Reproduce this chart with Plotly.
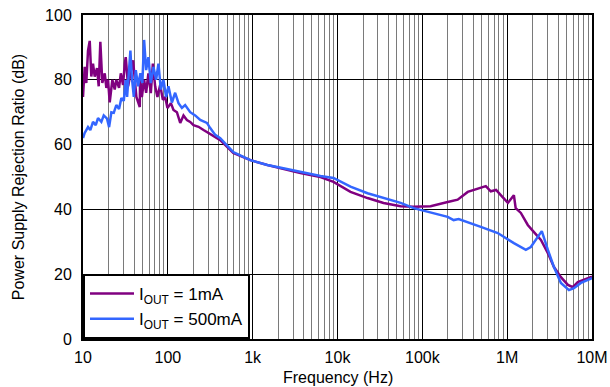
import plotly.graph_objects as go

# 1 mA series (frequency Hz, PSRR dB)
freq_1ma = [10, 10.47, 10.94, 11.46, 12.0, 12.53, 13.12, 13.74, 14.63, 15.32, 16.01, 16.9, 18.04,
            18.85, 19.73, 20.65, 22.17, 23.67, 24.7, 26.6, 27.9, 29.65, 31.07, 31.9, 34.0, 35.6,
            38.95, 42.6, 46.7,
            47.1, 49.4, 52.5, 55.5, 59.0, 63.0, 66.6, 70.9, 75.4, 81.2, 87.4, 93, 99, 108.6,
            116.6, 127.9, 140, 153, 167.8, 183.5, 200.7, 230, 263.5, 302, 346, 415,
            591, 938, 1490, 3655, 6300, 8970,
            14230, 22600, 34900, 55500, 79000, 125000, 199000, 261000, 343000, 420000, 489000,
            560000, 641000, 740000, 841000, 1020000, 1200000, 1260000, 1450000, 1750000,
            2070000, 2500000, 3020000, 3560000, 4300000, 5200000, 5960000, 6800000, 8970000, 10000000]
psrr_1ma = [74.7, 84, 79, 89, 92, 81, 85, 81, 83.6, 78, 91.7, 79, 82,
            77.5, 80, 73, 80, 77, 80, 77.5, 82, 78.4, 85, 87, 78, 81,
            86, 74.7, 71.6,
            81, 74.7, 80, 76, 82, 75.9, 85, 78, 74.7, 78.4, 73.8, 74.7, 71.3, 72.8,
            70.7, 70, 66.7, 69, 67.6, 67, 66, 65.5, 64.5, 63.6, 62.6, 61.4,
            57.4, 55.2, 53.7, 51.2, 50, 48.5,
            45.4, 43.5, 42, 41, 40.8, 41, 42.3, 43, 45.4, 46.2, 46.6,
            47.2, 45.6, 46, 44.4, 42, 44.4, 40.4, 38.9, 35.2,
            33, 30.6, 26.5, 22.2, 19.1, 16.7, 16, 17.6, 18.8, 19.2]

# 500 mA series
freq_500ma = [10, 10.47, 11.46, 12.2, 13.12, 14.13, 15.03, 16.45, 17.56, 19.2, 20.3, 21.6, 23.05,
              24.7, 26.6, 28.34, 30.25, 31.9, 33.1, 34.95, 36.2, 37.6, 39.7, 41.9, 44.6, 47.5,
              50.1,
              52.5, 55.5, 59.0, 63.0, 67.6, 72.8, 77.5, 82.7, 88.7, 95.5, 101.7, 111.6, 122,
              133.6, 146.5, 160, 183.5, 210, 241, 289, 316, 362, 415,
              591, 938, 1490, 2300, 3655, 6300, 8970, 14230, 22600, 34900, 55500,
              79000, 199000, 234000, 268000, 489000, 775000, 1200000, 1660000, 1900000,
              2180000, 2560000, 3020000, 3560000, 4300000, 5350000, 6120000, 7400000, 10000000]
psrr_500ma = [62, 63.6, 65.4, 64.5, 67, 66, 68.2, 67, 69, 68, 65.4, 70, 69.8,
              72.2, 71, 74.4, 73.5, 80, 74.7, 83, 89, 81, 74.7, 83, 78, 82,
              79,
              92.3, 83, 87, 79, 84, 80, 85, 77, 80, 74.7, 78, 73, 76,
              72.8, 71.3, 72.2, 70, 69, 67.6, 66.7, 65.1, 63, 62,
              57.7, 55.2, 53.7, 52.7, 51.5, 50.3, 49.7, 47, 45, 43.5, 42,
              40.4, 37.7, 36.7, 37.0, 34.6, 32.7, 29.6, 27.5, 28.4,
              30.6, 33.3, 27.5, 22.2, 17.3, 15.1, 15.7, 17.3, 18.8]

names = ["I<sub>OUT</sub> = 1mA", "I<sub>OUT</sub> = 500mA"]
colors = ["#800080", "#3366FF"]

x_tickvals = [10, 100, 1e3, 1e4, 1e5, 1e6, 1e7]
x_ticktext = ["10", "100", "1k", "10k", "100k", "1M", "10M"]
x_minor = [m * 10 ** d for d in range(1, 7) for m in range(2, 10)]
y_tickvals = [0, 20, 40, 60, 80, 100]
x_title = "Frequency (Hz)"
y_title = "Power Supply Rejection Ratio (dB)"

fig = go.Figure()
fig.add_trace(go.Scatter(x=freq_1ma, y=psrr_1ma, mode="lines", name=names[0],
                         line=dict(color=colors[0], width=2.5)))
fig.add_trace(go.Scatter(x=freq_500ma, y=psrr_500ma, mode="lines", name=names[1],
                         line=dict(color=colors[1], width=2.5)))

font = "Liberation Sans, Arial, sans-serif"
fig.update_layout(
    width=610, height=387,
    margin=dict(l=83, r=18, t=15, b=48),
    paper_bgcolor="white", plot_bgcolor="white",
    font=dict(family=font, color="black", size=16),
    legend=dict(x=0, y=0, xanchor="left", yanchor="bottom",
                bordercolor="black", borderwidth=2, bgcolor="white",
                font=dict(size=17), tracegroupgap=0, itemwidth=44),
    showlegend=True,
)
fig.add_annotation(text=x_title, xref="paper", yref="paper", x=0.5, y=-38 / 324,
                   xanchor="center", yanchor="middle", showarrow=False,
                   font=dict(size=16, family=font, color="black"))
fig.update_xaxes(
    type="log", range=[1, 7], automargin=False,
    tickvals=x_tickvals, ticktext=x_ticktext,
    showgrid=True, gridcolor="black", gridwidth=1,
    minor=dict(tickvals=x_minor, showgrid=True, gridcolor="#7a7a7a", gridwidth=1, ticks=""),
    showline=True, linecolor="black", linewidth=2, mirror=True,
    ticks="", tickfont=dict(size=16), ticklabelstandoff=3,
    zeroline=False,
)
fig.update_yaxes(
    range=[0, 100], tickvals=y_tickvals, automargin=False,
    showgrid=True, gridcolor="black", gridwidth=1,
    showline=True, linecolor="black", linewidth=2, mirror=True,
    ticks="", tickfont=dict(size=16), ticklabelstandoff=6,
    title=dict(text=y_title, font=dict(size=16), standoff=16),
    zeroline=False,
)

fig.write_html("out.html")
